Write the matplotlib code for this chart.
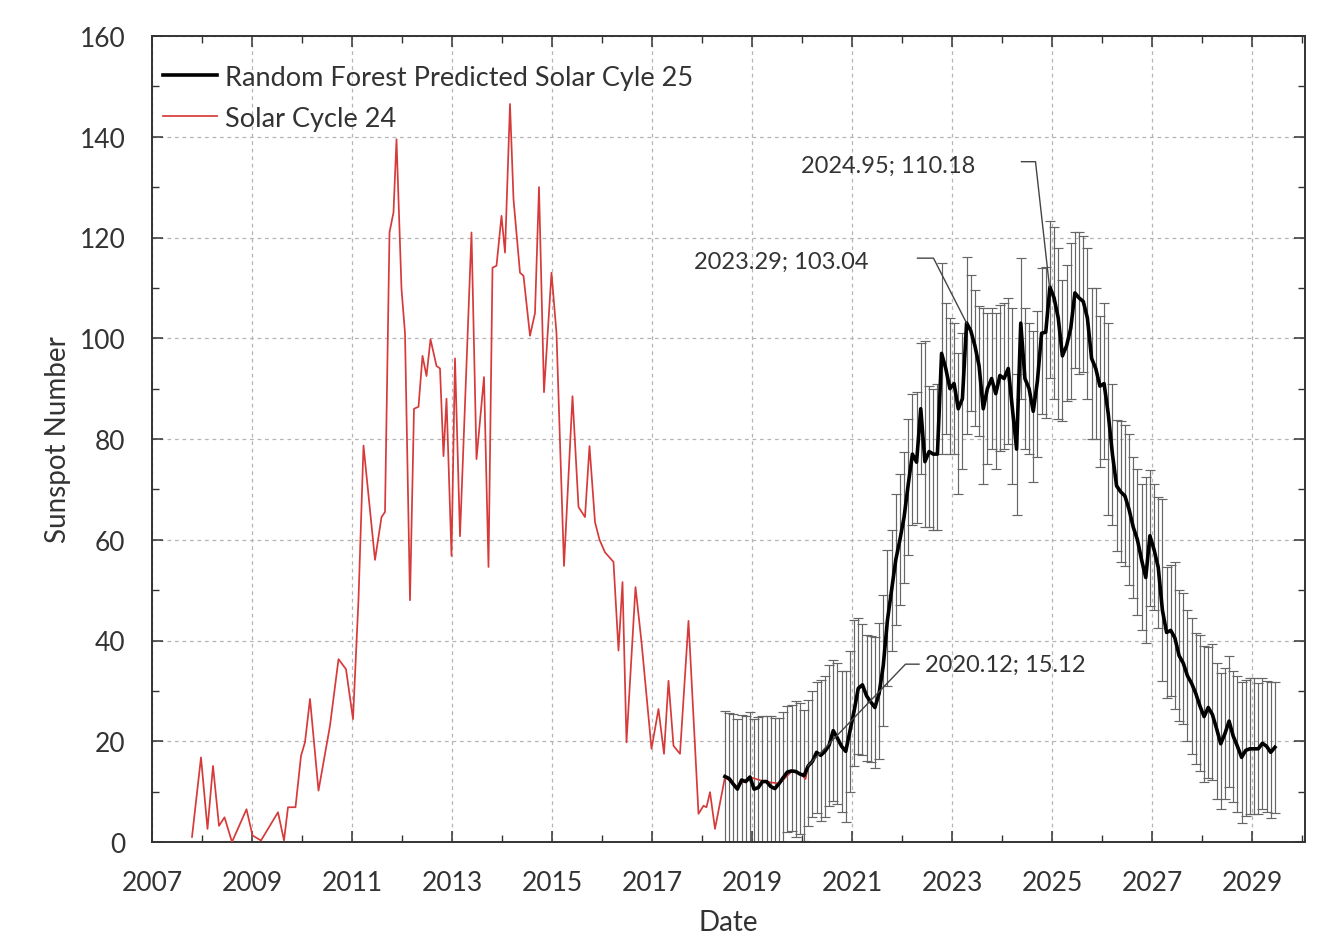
import numpy as np
import matplotlib
matplotlib.use("Agg")
import matplotlib.pyplot as plt
from matplotlib.ticker import MultipleLocator

plt.rcParams['font.family'] = ['Lato', 'DejaVu Sans']

# ---------------- Data ----------------
# Solar Cycle 24 (observed), decimal year / sunspot number
sc24_year = [2007.80, 2007.98, 2008.11, 2008.22, 2008.34, 2008.45, 2008.60, 2008.89, 2009.01,
             2009.18, 2009.52, 2009.64, 2009.72, 2009.87, 2009.98, 2010.06, 2010.16, 2010.33,
             2010.56, 2010.73, 2010.88, 2011.02, 2011.13, 2011.23, 2011.46, 2011.59, 2011.66,
             2011.75, 2011.83, 2011.89, 2011.99, 2012.06, 2012.16, 2012.24, 2012.33, 2012.41,
             2012.49, 2012.57, 2012.69, 2012.76, 2012.83, 2012.89, 2012.99, 2013.06, 2013.16,
             2013.39, 2013.49, 2013.64, 2013.73, 2013.81, 2013.89, 2013.99, 2014.06, 2014.16,
             2014.23, 2014.36, 2014.43, 2014.56, 2014.66, 2014.74, 2014.84, 2014.99, 2015.09,
             2015.24, 2015.41, 2015.53, 2015.66, 2015.75, 2015.86, 2015.95, 2016.06, 2016.23,
             2016.33, 2016.41, 2016.49, 2016.67, 2016.79, 2016.99, 2017.13, 2017.24, 2017.33,
             2017.43, 2017.56, 2017.73, 2017.93, 2018.03, 2018.09, 2018.16, 2018.26, 2018.46,
             2018.70, 2018.95, 2019.25, 2019.55, 2019.80, 2019.98, 2020.07, 2020.125]
sc24_ssn = [1.0, 16.8, 2.6, 15.1, 3.2, 4.9, 0.0, 6.5, 1.3,
            0.3, 5.9, 0.3, 6.9, 6.9, 17.1, 19.8, 28.4, 10.2,
            23.1, 36.3, 34.3, 24.4, 48.2, 78.7, 56.0, 64.5, 65.5,
            121.0, 125.0, 139.5, 109.8, 101.0, 48.0, 86.0, 86.4, 96.5,
            92.5, 99.8, 94.5, 94.0, 76.6, 88.0, 56.8, 96.0, 60.7,
            121.0, 76.0, 92.3, 54.6, 114.0, 114.4, 124.3, 117.0, 146.5,
            127.6, 113.0, 112.4, 100.5, 105.0, 130.0, 89.3, 113.0, 101.0,
            54.8, 88.5, 66.5, 64.5, 78.6, 63.5, 60.0, 57.5, 55.6,
            38.0, 51.6, 19.8, 50.6, 39.7, 18.5, 26.4, 17.5, 32.0,
            19.1, 17.5, 43.9, 5.6, 7.2, 6.9, 9.9, 2.6, 12.9,
            11.0, 12.9, 12.0, 11.6, 14.1, 13.5, 12.5, 15.12]

# Random Forest predicted Solar Cycle 25 : monthly values from Jun 2018 to Jun 2029
first_month = 2018 + 5.5 / 12
n_months = 133
pred_year = first_month + np.arange(n_months) / 12.0
pred_ssn = [13.0, 12.6, 11.5, 10.5, 12.3, 12.0, 12.9, 10.5, 10.8, 12.0,
            12.0, 11.0, 10.6, 11.6, 12.8, 13.9, 14.1, 14.0, 13.5, 13.2,
            15.12, 16.0, 17.8, 17.2, 18.0, 19.2, 22.1, 20.6, 19.0, 18.0,
            22.0, 26.0, 30.5, 31.2, 29.0, 27.8, 26.7, 29.5, 35.0, 44.0,
            50.0, 56.0, 60.0, 64.5, 71.0, 77.0, 75.4, 86.0, 75.5, 77.5,
            77.0, 77.0, 97.0, 94.0, 90.0, 91.0, 86.0, 88.0, 103.04, 101.5,
            98.5, 94.5, 86.0, 90.0, 92.0, 89.0, 92.6, 92.0, 94.0, 86.0,
            78.0, 103.0, 92.0, 90.0, 85.5, 91.5, 101.0, 101.2, 110.18, 108.0,
            104.0, 96.5, 98.5, 102.0, 109.0, 108.0, 107.3, 104.0, 96.0, 94.0,
            90.5, 91.0, 85.0, 77.0, 70.7, 69.5, 68.7, 66.0, 62.5, 60.0,
            56.0, 52.5, 60.8, 58.0, 54.5, 46.0, 41.6, 42.0, 40.5, 37.0,
            35.5, 33.0, 31.5, 29.5, 27.0, 24.9, 26.7, 25.3, 22.5, 19.5,
            21.5, 24.0, 21.0, 19.0, 16.8, 18.2, 18.5, 18.5, 18.5, 19.6,
            19.0, 17.8, 18.8]
pred_err_hi = [13, 13, 14, 14, 13, 13, 13, 14, 14, 13,
               13, 14, 14, 13, 13, 13, 13, 14, 14, 13,
               13, 14, 14, 15, 15, 16, 14, 15, 15, 16,
               16, 18, 14, 12, 12, 13, 14, 14, 14, 14,
               12, 13, 13, 13, 13, 12, 14, 13, 24, 13,
               13, 14, 18, 13, 14, 12, 11, 13, 13, 11,
               11, 12, 20, 15, 14, 16, 14, 15, 14, 20,
               15, 13, 14, 13, 16, 14, 13, 13, 13, 14,
               14, 15, 16, 17, 12, 13, 13, 14, 14, 16,
               14, 16, 18, 14, 13, 14, 14, 15, 14, 14,
               15, 20, 13, 13, 14, 22, 13, 13, 15, 13,
               14, 13, 13, 12, 14, 14, 12, 14, 13, 14,
               13, 13, 13, 14, 15, 14, 14, 14, 13, 13,
               13, 14, 13]
pred_err_lo = [13, 13, 12, 12, 13, 13, 13, 12, 12, 13,
               13, 12, 12, 13, 13, 12, 12, 13, 12, 13,
               12, 11, 12, 13, 13, 12, 14, 13, 13, 14,
               12, 11, 13, 14, 13, 12, 12, 13, 12, 13,
               12, 13, 13, 13, 14, 14, 12, 13, 13, 15,
               15, 15, 20, 13, 13, 14, 17, 14, 22, 16,
               16, 14, 15, 15, 14, 15, 15, 14, 15, 15,
               13, 15, 14, 13, 14, 15, 16, 17, 18, 20,
               20, 13, 11, 14, 15, 15, 14, 16, 16, 14,
               16, 15, 20, 14, 13, 14, 14, 15, 14, 15,
               14, 13, 14, 12, 12, 14, 13, 13, 14, 13,
               12, 13, 14, 14, 13, 13, 14, 13, 14, 13,
               13, 13, 13, 13, 13, 13, 13, 13, 13, 13,
               13, 13, 13]

# Annotated points (date; sunspot number)
ann_year = [2020.12, 2023.29, 2024.95]
ann_ssn = [15.12, 103.04, 110.18]
ann_text = ["2020.12; 15.12", "2023.29; 103.04", "2024.95; 110.18"]

x_ticks = [2007, 2009, 2011, 2013, 2015, 2017, 2019, 2021, 2023, 2025, 2027, 2029]
y_ticks = [0, 20, 40, 60, 80, 100, 120, 140, 160]

# ---------------- Figure ----------------
W, H, DPI = 1332, 937, 100
fig = plt.figure(figsize=(W / DPI, H / DPI), dpi=DPI, facecolor='white')
ax = fig.add_axes([152 / W, 1 - 843 / H, (1305 - 152) / W, (843 - 37) / H])

text_col = '#333333'

ax.errorbar(pred_year, pred_ssn, yerr=[pred_err_lo, pred_err_hi], fmt='none',
            ecolor='#666666', elinewidth=0.85, capsize=3.4, capthick=0.85, zorder=2)
ax.plot(sc24_year, sc24_ssn, color='#d63a3a', lw=1.25, zorder=3, label='Solar Cycle 24')
ax.plot(pred_year, pred_ssn, color='black', lw=2.6, zorder=4,
        label='Random Forest Predicted Solar Cyle 25')

ax.set_xlim(2007, 2030.06)
ax.set_ylim(0, 160)
ax.set_xticks(x_ticks)
ax.set_yticks(y_ticks)
ax.xaxis.set_minor_locator(MultipleLocator(1))
ax.yaxis.set_minor_locator(MultipleLocator(10))
ax.tick_params(which='both', direction='in', top=True, right=True, colors='#333333',
               labelcolor=text_col, labelsize=19)
ax.tick_params(which='major', length=8, width=1.1)
ax.tick_params(which='minor', length=5, width=1.0)
ax.tick_params(axis='x', pad=20)
ax.tick_params(axis='y', pad=19)
ax.grid(True, which='major', color='#b5b5b5', linestyle=(0, (3, 3)), linewidth=0.9)
for s in ax.spines.values():
    s.set_linewidth(1.4)
    s.set_color('#333333')

ax.set_xlabel('Date', fontsize=20, color=text_col, labelpad=10)
ax.set_ylabel('Sunspot Number', fontsize=20, color=text_col, labelpad=6)

# Legend
handles, labels = ax.get_legend_handles_labels()
leg = ax.legend(handles[::-1], labels[::-1], loc='upper left', bbox_to_anchor=(-0.007, 0.988),
                frameon=False, fontsize=19.5, handlelength=2.0, handletextpad=0.3,
                labelspacing=0.6, borderaxespad=0.3)
for t in leg.get_texts():
    t.set_color(text_col)

# Annotations with elbow leader lines
lead_col = '#444444'
# 2020.12
ax.plot([ann_year[0], 2022.07, 2022.34], [ann_ssn[0], 35.3, 35.3], color=lead_col, lw=1.0, zorder=5)
ax.text(2022.46, 35.3, ann_text[0], fontsize=17, color=text_col, ha='left', va='center')
# 2023.29
ax.plot([ann_year[1], 2022.63, 2022.31], [ann_ssn[1], 115.9, 115.9], color=lead_col, lw=1.0, zorder=5)
ax.text(2021.32, 115.2, ann_text[1], fontsize=17, color=text_col, ha='right', va='center')
# 2024.95
ax.plot([ann_year[2], 2024.67, 2024.39], [ann_ssn[2], 135.05, 135.05], color=lead_col, lw=1.0, zorder=5)
ax.text(2023.46, 134.4, ann_text[2], fontsize=17, color=text_col, ha='right', va='center')

fig.savefig('out.png', dpi=DPI, facecolor='white')
